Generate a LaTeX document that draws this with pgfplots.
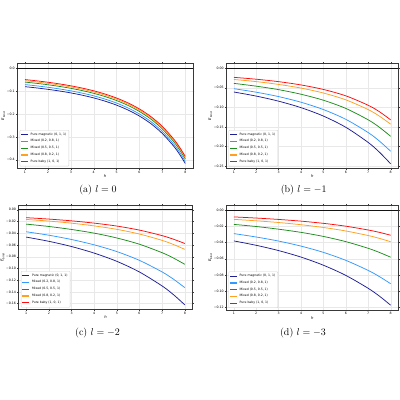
\documentclass[border=0pt]{standalone}
\usepackage{fontspec}
\usepackage{pgfplots}
\usepackage{pgfplotstable}
\pgfplotsset{compat=1.18}
\newfontfamily\dejavu{DejaVu Sans}
\definecolor{cnavy}{HTML}{1F1F96}
\definecolor{clb}{HTML}{3399FF}
\definecolor{cgreen}{HTML}{1E8C1E}
\definecolor{corange}{HTML}{FFA020}
\definecolor{cred}{HTML}{FF0A0A}

\pgfplotstableread{
h navy lb green orange red
1 -0.0810 -0.0720 -0.0610 -0.0550 -0.0500
1.5 -0.0864 -0.0774 -0.0664 -0.0604 -0.0554
2 -0.0926 -0.0836 -0.0726 -0.0666 -0.0616
2.5 -0.0998 -0.0908 -0.0798 -0.0738 -0.0688
3 -0.1082 -0.0992 -0.0882 -0.0822 -0.0772
3.5 -0.1182 -0.1092 -0.0982 -0.0922 -0.0872
4 -0.1300 -0.1210 -0.1100 -0.1040 -0.0990
4.5 -0.1443 -0.1353 -0.1243 -0.1183 -0.1133
5 -0.1616 -0.1526 -0.1416 -0.1356 -0.1306
5.5 -0.1829 -0.1739 -0.1629 -0.1569 -0.1519
6 -0.2093 -0.2003 -0.1893 -0.1833 -0.1783
6.5 -0.2426 -0.2336 -0.2226 -0.2166 -0.2116
7 -0.2855 -0.2765 -0.2655 -0.2595 -0.2545
7.5 -0.3413 -0.3323 -0.3213 -0.3153 -0.3103
7.75 -0.3759 -0.3669 -0.3559 -0.3499 -0.3449
8 -0.4161 -0.4071 -0.3961 -0.3901 -0.3851
}\tba

\pgfplotstableread{
h navy lb green orange red
1 -0.0610 -0.0525 -0.0390 -0.0290 -0.0236
2 -0.0714 -0.0615 -0.0461 -0.0345 -0.0284
3 -0.0844 -0.0727 -0.0550 -0.0417 -0.0346
4 -0.1009 -0.0871 -0.0667 -0.0510 -0.0430
5 -0.1224 -0.1058 -0.0820 -0.0636 -0.0545
6 -0.1510 -0.1307 -0.1029 -0.0810 -0.0708
7 -0.1897 -0.1645 -0.1320 -0.1059 -0.0949
7.5 -0.2145 -0.1862 -0.1510 -0.1226 -0.1113
8 -0.2440 -0.2120 -0.1740 -0.1430 -0.1320
}\tbb

\pgfplotstableread{
h navy lb green orange red
1 -0.0466 -0.0375 -0.0245 -0.0165 -0.0135
2 -0.0538 -0.0434 -0.0285 -0.0193 -0.0159
3 -0.0627 -0.0507 -0.0336 -0.0229 -0.0189
4 -0.0739 -0.0598 -0.0399 -0.0275 -0.0228
5 -0.0879 -0.0713 -0.0481 -0.0334 -0.0278
6 -0.1061 -0.0863 -0.0588 -0.0414 -0.0347
7 -0.1299 -0.1060 -0.0732 -0.0522 -0.0441
7.5 -0.1447 -0.1183 -0.0823 -0.0592 -0.0502
8 -0.1620 -0.1327 -0.0930 -0.0675 -0.0575
}\tbc

\pgfplotstableread{
h navy lb green orange red
1 -0.0380 -0.0290 -0.0177 -0.0115 -0.0085
2 -0.0434 -0.0332 -0.0203 -0.0133 -0.0099
3 -0.0499 -0.0382 -0.0236 -0.0154 -0.0116
4 -0.0579 -0.0444 -0.0275 -0.0181 -0.0137
5 -0.0679 -0.0521 -0.0325 -0.0215 -0.0164
6 -0.0804 -0.0619 -0.0389 -0.0258 -0.0199
7 -0.0963 -0.0743 -0.0471 -0.0314 -0.0246
7.5 -0.1059 -0.0819 -0.0522 -0.0349 -0.0275
8 -0.1170 -0.0906 -0.0580 -0.0390 -0.0310
}\tbd

\pgfplotsset{
  legend image code/.code={\draw[#1, line width=1.3bp] (0bp,0bp) -- (7bp,0bp);},
}
\pgfplotsset{
  panel/.style={
    scale only axis, anchor=south west,
    xmin=0.65, xmax=8.35, xtick={1,...,8},
    xticklabels={1,2,3,4,5,6,7,8},
    grid=major, grid style={gray!18, line width=0.3bp},
    axis line style={gray!45!black, line width=0.5bp},
    tick style={gray!45!black, line width=0.3bp},
    tick align=outside, major tick length=1.2bp,
    ticklabel style={font=\dejavu\fontsize{3.2}{3.6}\selectfont},
    xticklabel style={inner sep=1bp},
    yticklabel style={inner sep=1bp},
    xlabel={\dejavu\itshape h},
    xlabel style={font=\fontsize{3.8}{4.2}\selectfont, inner sep=0.5bp},
    ylabel={\dejavu{\itshape E}\textsubscript{bind}},
    ylabel style={font=\fontsize{3.8}{4.2}\selectfont, inner sep=0.5bp},
    legend style={at={(0.015,0.02)}, anchor=south west, draw=gray!35,
      rounded corners=0.8bp, font=\dejavu\fontsize{3.1}{3.6}\selectfont,
      inner sep=0.6bp, row sep=-1.1bp, fill=white},
    legend cell align=left,
    every axis plot/.append style={line width=0.75bp},
  },
  zeroline/.style={forget plot, gray!15!black, line width=0.7bp},
}

\newcommand{\curves}[1]{%
  \addplot[zeroline] coordinates {(0.65,0) (8.35,0)};
  \addplot[color=cnavy, smooth] table[x=h, y=navy]{#1};
  \addlegendentry{Pure magnetic (0, 1, 1)}
  \addplot[color=clb, smooth] table[x=h, y=lb]{#1};
  \addlegendentry{Mixed (0.2, 0.8, 1)}
  \addplot[color=cgreen, smooth] table[x=h, y=green]{#1};
  \addlegendentry{Mixed (0.5, 0.5, 1)}
  \addplot[color=corange, smooth] table[x=h, y=orange]{#1};
  \addlegendentry{Mixed (0.8, 0.2, 1)}
  \addplot[color=cred, smooth] table[x=h, y=red]{#1};
  \addlegendentry{Pure baby (1, 0, 1)}
}

\begin{document}
\begin{tikzpicture}[x=1bp, y=1bp]
\path[use as bounding box] (0,0) rectangle (400,400);

\begin{axis}[panel, at={(17bp,231.5bp)}, width=176.3bp, height=105.2bp,
  ymin=-0.438, ymax=0.021,
  ytick={0,-0.1,-0.2,-0.3,-0.4},
  yticklabels={0.0,−0.1,−0.2,−0.3,−0.4}]
\curves{\tba}
\end{axis}

\begin{axis}[panel, at={(226bp,231.5bp)}, width=172.5bp, height=105.2bp,
  ymin=-0.256, ymax=0.0122,
  ytick={0,-0.05,-0.1,-0.15,-0.2,-0.25},
  yticklabels={0.00,−0.05,−0.10,−0.15,−0.20,−0.25}]
\curves{\tbb}
\end{axis}

\begin{axis}[panel, at={(18.3bp,90.5bp)}, width=174.4bp, height=104.5bp,
  ymin=-0.170, ymax=0.0081,
  ytick={0,-0.02,-0.04,-0.06,-0.08,-0.1,-0.12,-0.14,-0.16},
  yticklabels={0.00,−0.02,−0.04,−0.06,−0.08,−0.10,−0.12,−0.14,−0.16}]
\curves{\tbc}
\end{axis}

\begin{axis}[panel, at={(226bp,90bp)}, width=172.5bp, height=104.8bp,
  ymin=-0.1229, ymax=0.0059,
  ytick={0,-0.02,-0.04,-0.06,-0.08,-0.1,-0.12},
  yticklabels={0.00,−0.02,−0.04,−0.06,−0.08,−0.10,−0.12}]
\curves{\tbd}
\end{axis}

\node[font=\fontsize{10}{12}\selectfont] at (98bp,210bp) {(a) $l=0$};
\node[font=\fontsize{10}{12}\selectfont] at (303.7bp,210bp) {(b) $l=-1$};
\node[font=\fontsize{10}{12}\selectfont] at (97.5bp,67bp) {(c) $l=-2$};
\node[font=\fontsize{10}{12}\selectfont] at (303bp,67bp) {(d) $l=-3$};
\end{tikzpicture}
\end{document}
